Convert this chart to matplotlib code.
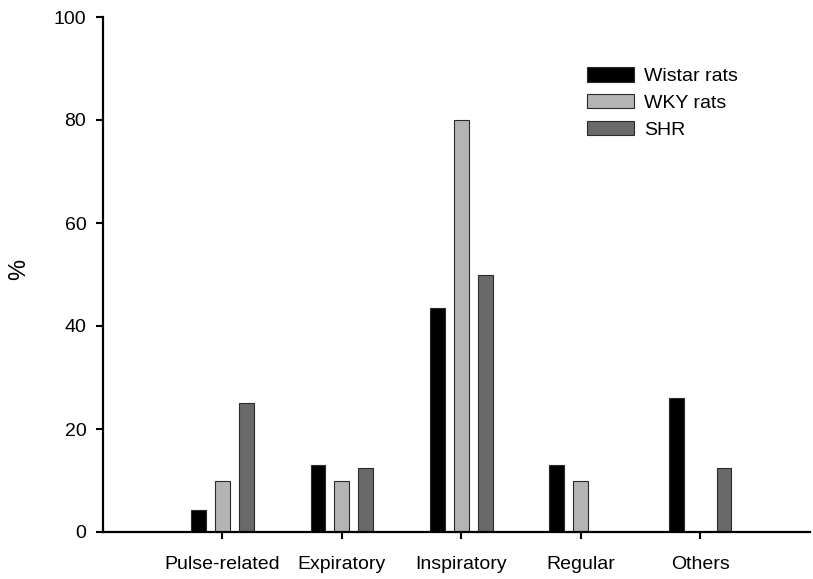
import numpy as np
import matplotlib.pyplot as plt
from matplotlib.patches import Patch

plt.rcParams['font.family'] = ['Liberation Sans', 'DejaVu Sans']

categories = ['Pulse-related', 'Expiratory', 'Inspiratory', 'Regular', 'Others']
wistar = [4.3, 13.0, 43.5, 13.0, 26.1]
wky = [10, 10, 80, 10, 0]
shr = [25, 12.5, 50, 0, 12.5]
series_names = ['Wistar rats', 'WKY rats', 'SHR']
colors = ['#000000', '#b4b4b4', '#6a6a6a']

fig = plt.figure(figsize=(8.13, 5.79), dpi=100)
ax = fig.add_axes([103 / 813, 1 - 532 / 579, 707 / 813, 515 / 579])

x = np.arange(len(categories))
offset = 0.2
width = 0.125
for i, (vals, c) in enumerate(zip([wistar, wky, shr], colors)):
    ax.bar(x + (i - 1) * offset, vals, width, color=c, edgecolor='#2a2a2a', linewidth=0.8)

ax.set_xlim(-1, 4.92)
ax.set_ylim(0, 100)
ax.set_xticks(x)
ax.set_xticklabels(categories, fontsize=14)
ax.set_yticks([0, 20, 40, 60, 80, 100])
ax.tick_params(axis='y', labelsize=14, length=5, width=1.5, direction='out', pad=7)
ax.tick_params(axis='x', length=5, width=1.5, direction='out', pad=12)
ax.spines['top'].set_visible(False)
ax.spines['right'].set_visible(False)
ax.spines['left'].set_linewidth(1.6)
ax.spines['bottom'].set_linewidth(1.6)
ax.set_ylabel('%', fontsize=17)
ax.yaxis.set_label_coords(-0.103, 0.51)

handles = [Patch(facecolor=c, edgecolor='#2a2a2a', linewidth=0.8) for c in colors]
ax.legend(handles, series_names, loc='upper left', bbox_to_anchor=(587 / 813, 1 - 67 / 579),
          bbox_transform=fig.transFigure, frameon=False, fontsize=14, borderpad=0,
          handlelength=2.4, handleheight=0.78, handletextpad=0.55, labelspacing=0.45,
          borderaxespad=0)

fig.savefig('out.png', dpi=100)
